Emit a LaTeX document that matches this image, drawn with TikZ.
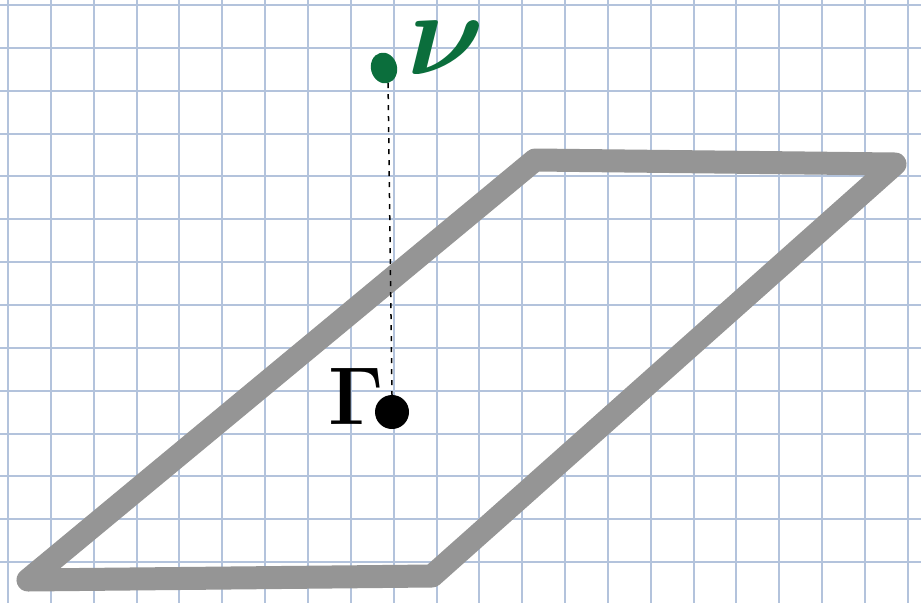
\documentclass[tikz,border=0pt]{standalone}
\usepackage{graphicx}
\usepackage{amsmath}
\definecolor{gridc}{HTML}{B3C3DC}
\definecolor{shapec}{HTML}{959595}
\definecolor{dotg}{HTML}{0B6E3C}
\tikzset{
  gridline/.style={draw=gridc, line width=2pt},
  edge/.style={draw=shapec, line width=23pt, line cap=round, line join=round},
  gdot/.style={ellipse, fill=dotg, minimum width=26pt, minimum height=31pt, inner sep=0pt},
  bdot/.style={circle, fill=black, minimum size=34pt, inner sep=0pt},
  link/.style={draw=black, line width=1.5pt, dash pattern=on 5pt off 6pt},
}
\usetikzlibrary{shapes.geometric}
\begin{document}
\begin{tikzpicture}[x=1pt,y=-1pt]
\useasboundingbox (0,0) rectangle (921,603);
\fill[white] (0,0) rectangle (921,603);
\foreach \i in {0,...,21} {
  \draw[gridline] ({8+42.85*\i},0) -- ({8+42.85*\i},603);
}
\foreach \j in {0,...,14} {
  \draw[gridline] (0,{5+42.85*\j}) -- (921,{5+42.85*\j});
}
\coordinate (BL) at (28,580);
\coordinate (BR) at (432,576);
\coordinate (TR) at (895,164);
\coordinate (TL) at (535,160);
\draw[edge] (BL) -- (BR) -- (TR) -- (TL) -- cycle;
\node[gdot, rotate=15] (g) at (384,68) {};
\node[bdot] (b) at (392,412) {};
\draw[link] (g.south) -- (b.north);
\node[text=dotg, inner sep=0pt] (nu) at (446,48) {\scalebox{4.8}{\Huge$\boldsymbol{\nu}$}};
\node[text=black, inner sep=0pt] (gam) at (356,396) {\scalebox{3.3}{\Huge$\mathbf{\Gamma}$}};
\end{tikzpicture}
\end{document}
